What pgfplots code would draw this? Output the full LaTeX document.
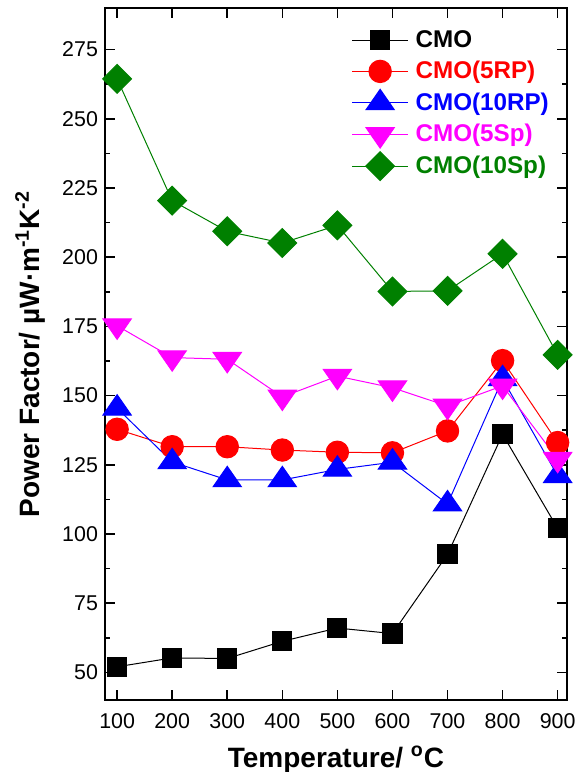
\documentclass[border=0pt]{standalone}
\usepackage{fontspec}
\setmainfont{Liberation Sans}
\usepackage{pgfplots}
\pgfplotsset{compat=1.18}
\definecolor{pfgreen}{RGB}{0,128,0}
\definecolor{pfmag}{RGB}{255,0,255}

\begin{document}
\begin{tikzpicture}
\begin{axis}[
  name=ax,
  scale only axis, width=231pt, height=346pt,
  xmin=78, xmax=917, ymin=40, ymax=290,
  xtick={100,200,...,900}, ytick={50,75,...,275},
  minor y tick num=1,
  tick align=inside, major tick length=5pt, minor tick length=2.5pt,
  axis line style={line width=1pt},
  every tick/.style={black,line width=0.8pt},
  /pgf/number format/assume math mode=true,
  tick label style={font=\fontsize{10.7}{12}\selectfont},
  xticklabel style={yshift=-3pt},
  xlabel={Temperature/ \textsuperscript{o}C},
  ylabel={Power Factor/ µW·m\textsuperscript{-1}K\textsuperscript{-2}},
  label style={font=\bfseries\fontsize{14}{17}\selectfont,inner sep=0pt},
  xlabel style={at={(axis description cs:0.5,-0.086)},anchor=center},
  ylabel style={at={(axis description cs:-0.162,0.5)},anchor=center},
  legend cell align=left,
  legend style={at={(axis description cs:0.52,0.98)},anchor=north west,
    draw=none,fill=none,row sep=1.5pt,
    /tikz/every odd column/.append style={column sep=1.5pt},
    font=\bfseries\fontsize{12.1}{13}\selectfont},
  legend image code/.code={\draw[mark repeat=2,mark phase=2,#1]
    plot coordinates {(0pt,0pt)(14pt,0pt)(28pt,0pt)};},
]
\addplot[black,line width=0.5pt,mark=square*,mark size=4.8pt,
  mark options={fill=black}] coordinates {
  (100,52)(200,55.2)(300,55)(400,61.2)(500,66)(600,64)(700,92.6)(800,136)(900,102)};
\addlegendentry{\textcolor{black}{CMO}}
\addplot[red,line width=0.5pt,mark=*,mark size=5.6pt,
  mark options={fill=red}] coordinates {
  (100,137.8)(200,131.5)(300,131.5)(400,130.3)(500,129.5)(600,129.3)(700,137.2)(800,162.6)(900,133)};
\addlegendentry{\textcolor{red}{CMO(5RP)}}
\addplot[blue,line width=0.5pt,mark=triangle*,mark size=6.8pt,
  mark options={fill=blue,xscale=1.2}] coordinates {
  (100,145.4)(200,126)(300,119.5)(400,119.5)(500,123.3)(600,125.9)(700,110.8)(800,156)(900,121)};
\addlegendentry{\textcolor{blue}{CMO(10RP)}}
\addplot[pfmag,line width=0.5pt,mark=triangle*,mark size=6.8pt,
  mark options={fill=pfmag,rotate=180,xscale=1.2}] coordinates {
  (100,175.2)(200,163.7)(300,163.1)(400,149.5)(500,157)(600,152.8)(700,146.2)(800,153.5)(900,127)};
\addlegendentry{\textcolor{pfmag}{CMO(5Sp)}}
\addplot[pfgreen,line width=0.5pt,mark=square*,mark size=5.1pt,
  mark options={fill=pfgreen,rotate=45}] coordinates {
  (100,264.4)(200,220.4)(300,209.3)(400,205.1)(500,211.5)(600,187.6)(700,187.8)(800,201.2)(900,164.7)};
\addlegendentry{\textcolor{pfgreen}{CMO(10Sp)}}
\end{axis}
\pgfresetboundingbox
\path[use as bounding box] ([xshift=-52.5pt,yshift=-36pt]ax.south west)
  rectangle ([xshift=5.5pt,yshift=4pt]ax.north east);
\end{tikzpicture}
\end{document}
